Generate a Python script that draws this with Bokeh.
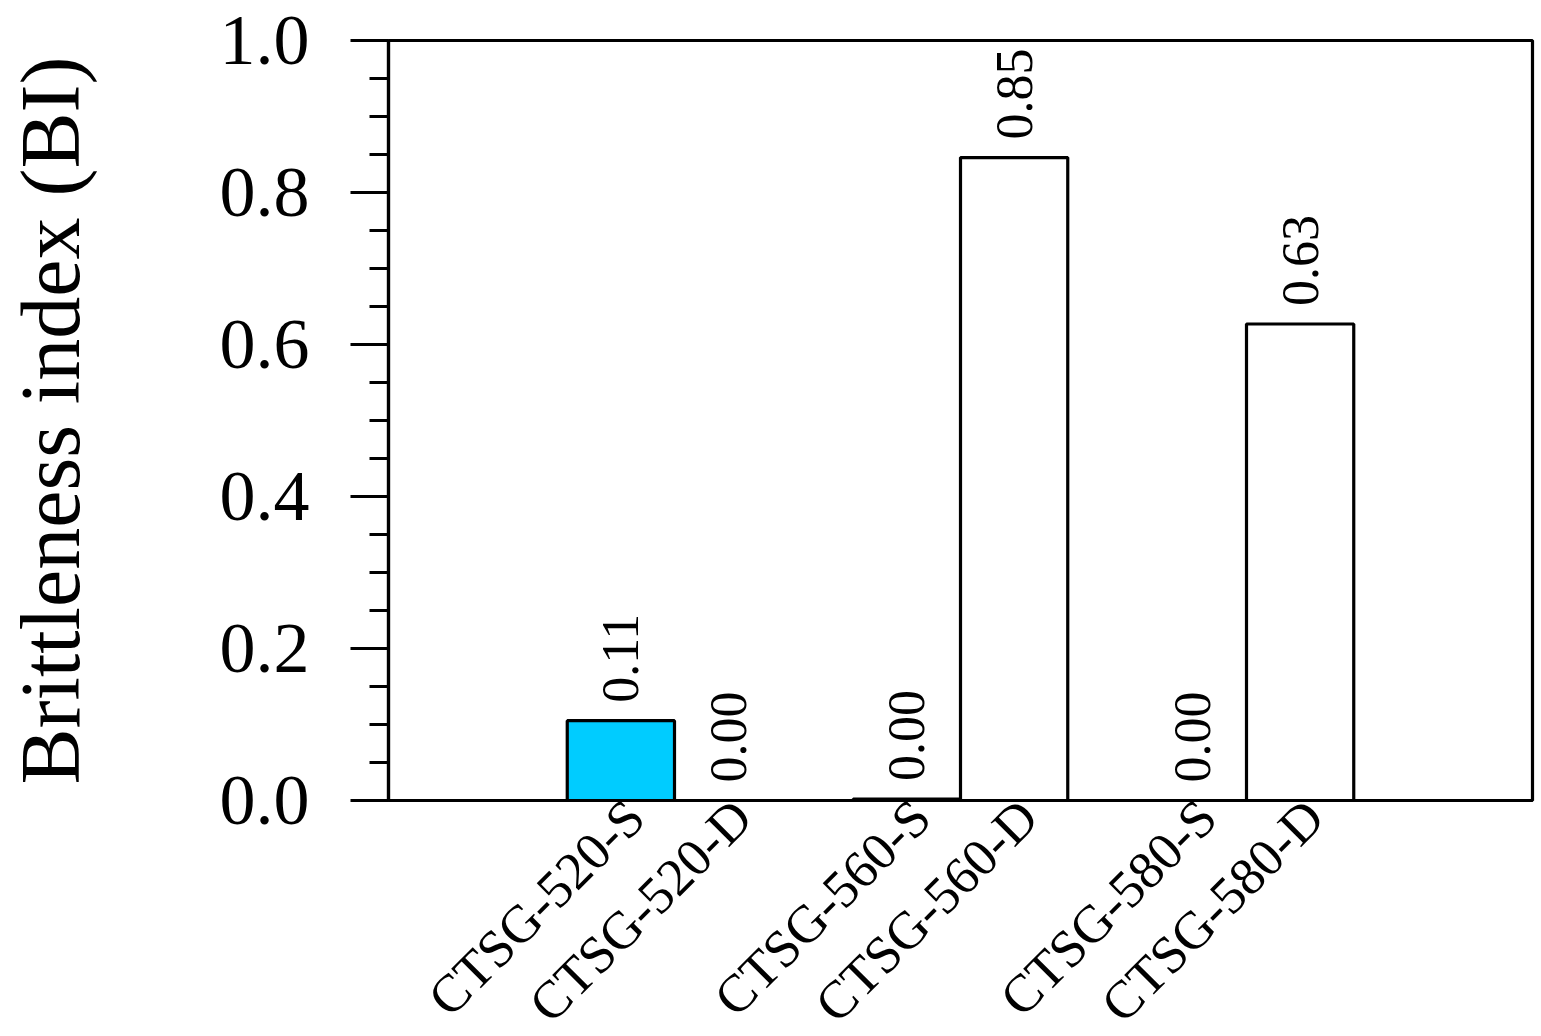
import math
from bokeh.plotting import figure
from bokeh.models import (Range1d, SingleIntervalTicker, FixedTicker,
                          PrintfTickFormatter, ColumnDataSource)
from bokeh.core.properties import value
from bokeh.embed import file_html
from bokeh.resources import INLINE

# ---- data ----
groups = ["CTSG-520", "CTSG-560", "CTSG-580"]
conditions = ["S", "D"]
categories = ["CTSG-520-S", "CTSG-520-D", "CTSG-560-S",
              "CTSG-560-D", "CTSG-580-S", "CTSG-580-D"]
bi_values = [0.105, 0.0, 0.002, 0.846, 0.0, 0.627]
bi_texts = ["0.11", "0.00", "0.00", "0.85", "0.00", "0.63"]
y_ticks = [0.0, 0.2, 0.4, 0.6, 0.8, 1.0]

# ---- layout helpers ----
bar_w = 0.375
offsets = {"S": -bar_w / 2, "D": bar_w / 2}
xs = []
for gi, g in enumerate(groups):
    for c in conditions:
        xs.append(gi + 1 + offsets[c])
fills = ["#00CCFF" if c == "CTSG-520-S" else "white" for c in categories]

# rotated tick labels sit slightly right of the bar centre in the original
label_shift = 0.05
label_pos = [x + label_shift for x in xs]

src = ColumnDataSource(dict(x=xs, top=bi_values, label=bi_texts,
                            cat=categories, fill=fills))

FONT = "Liberation Serif"

p = figure(frame_width=1144, frame_height=760,
           x_range=Range1d(0, 4), y_range=Range1d(0, 1.0),
           output_backend="svg", toolbar_location=None,
           min_border_left=388, min_border_right=5,
           min_border_top=40, min_border_bottom=226)

p.vbar(x="x", top="top", bottom=0, width=bar_w, source=src,
       fill_color="fill", line_color="black", line_width=3.2)

p.text(x="x", y="top", text="label", source=src, angle=math.pi / 2,
       text_align="left", text_baseline="middle", y_offset=-18,
       text_font=value(FONT), text_font_size="52px", text_color="black")

p.xgrid.visible = False
p.ygrid.visible = False
p.outline_line_color = "black"
p.outline_line_width = 3.2
p.outline_line_alpha = 1.0
p.background_fill_color = "white"
p.border_fill_color = "white"

# y axis
ya = p.yaxis[0]
ya.ticker = SingleIntervalTicker(interval=0.2, num_minor_ticks=4)
ya.formatter = PrintfTickFormatter(format="%.1f")
ya.axis_label = "Brittleness index (BI)"
ya.axis_label_text_font = FONT
ya.axis_label_text_font_size = "84px"
ya.axis_label_text_font_style = "normal"
ya.axis_label_text_color = "black"
ya.axis_label_standoff = 120
ya.major_label_text_font = FONT
ya.major_label_text_font_size = "72px"
ya.major_label_text_color = "black"
ya.major_label_standoff = 41
ya.major_tick_out = 38
ya.major_tick_in = 0
ya.minor_tick_out = 19
ya.minor_tick_in = 0
ya.major_tick_line_width = 3.2
ya.minor_tick_line_width = 3.2
ya.major_tick_line_color = "black"
ya.minor_tick_line_color = "black"
ya.axis_line_width = 3.2
ya.axis_line_color = "black"

# x axis
xa = p.xaxis[0]
xa.ticker = FixedTicker(ticks=label_pos)
xa.major_label_overrides = {x: c for x, c in zip(label_pos, categories)}
xa.major_label_orientation = math.pi / 4
xa.major_label_text_font = FONT
xa.major_label_text_font_size = "53px"
xa.major_label_text_color = "black"
xa.major_label_standoff = 2
xa.major_tick_line_color = None
xa.minor_tick_line_color = None
xa.axis_line_width = 3.2
xa.axis_line_color = "black"

open("out.html", "w").write(file_html(p, INLINE))
